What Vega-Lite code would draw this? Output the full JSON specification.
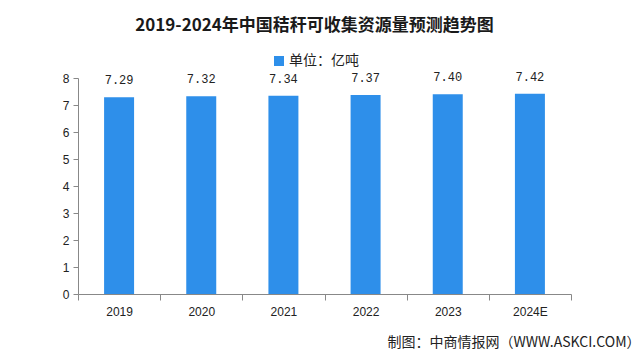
{
  "$schema": "https://vega.github.io/schema/vega-lite/v6.json",
  "width": 493,
  "height": 216,
  "autosize": {"type": "none"},
  "padding": {"left": 78, "top": 78, "right": 69, "bottom": 63},
  "background": "#ffffff",
  "title": {
    "text": "2019-2024年中国秸秆可收集资源量预测趋势图",
    "font": "Noto Sans CJK SC",
    "fontSize": 17,
    "fontWeight": "bold",
    "color": "#1a1a1a",
    "anchor": "middle",
    "frame": "group",
    "dx": -10,
    "offset": 19
  },
  "data": {
    "values": [
      {"year": "2019", "value": 7.29, "label": "7.29", "unit": "单位：亿吨"},
      {"year": "2020", "value": 7.32, "label": "7.32", "unit": "单位：亿吨"},
      {"year": "2021", "value": 7.34, "label": "7.34", "unit": "单位：亿吨"},
      {"year": "2022", "value": 7.37, "label": "7.37", "unit": "单位：亿吨"},
      {"year": "2023", "value": 7.40, "label": "7.40", "unit": "单位：亿吨"},
      {"year": "2024E", "value": 7.42, "label": "7.42", "unit": "单位：亿吨"}
    ]
  },
  "encoding": {
    "x": {
      "field": "year",
      "type": "nominal",
      "sort": null,
      "scale": {"paddingInner": 0, "paddingOuter": 0},
      "axis": {
        "title": "制图：中商情报网（WWW.ASKCI.COM）",
        "titleFont": "Noto Sans CJK SC",
        "titleFontSize": 14,
        "titleFontWeight": "normal",
        "titleColor": "#222222",
        "titleAnchor": "end",
        "titleAlign": "right",
        "titleBaseline": "middle",
        "titleX": 562,
        "titleY": 48,
        "labelAngle": 0,
        "labelFont": "Liberation Sans",
        "labelFontSize": 12,
        "labelColor": "#222222",
        "labelPadding": 6,
        "tickBand": "extent",
        "tickSize": 6,
        "tickColor": "#888888",
        "domainColor": "#888888",
        "grid": false
      }
    },
    "y": {
      "field": "value",
      "type": "quantitative",
      "scale": {"domain": [0, 8], "nice": false},
      "axis": {
        "title": null,
        "values": [0, 1, 2, 3, 4, 5, 6, 7, 8],
        "labelFont": "Liberation Sans",
        "labelFontSize": 12,
        "labelColor": "#222222",
        "labelPadding": 4,
        "tickSize": 5,
        "tickColor": "#888888",
        "domainColor": "#888888",
        "grid": false
      }
    }
  },
  "layer": [
    {
      "mark": {"type": "bar", "width": {"band": 0.365}},
      "encoding": {
        "color": {
          "field": "unit",
          "type": "nominal",
          "scale": {"range": ["#2E8FEA"]},
          "legend": {
            "title": null,
            "orient": "none",
            "legendX": 194,
            "legendY": -24,
            "symbolType": "square",
            "symbolSize": 100,
            "symbolStrokeWidth": 0,
            "labelFont": "Noto Sans CJK SC",
            "labelFontSize": 14,
            "labelColor": "#222222",
            "labelOffset": 3
          }
        }
      }
    },
    {
      "mark": {
        "type": "text",
        "baseline": "bottom",
        "dy": -10,
        "font": "Liberation Mono",
        "fontSize": 12,
        "color": "#222222"
      },
      "encoding": {"text": {"field": "label"}}
    }
  ],
  "config": {"view": {"stroke": null}}
}
